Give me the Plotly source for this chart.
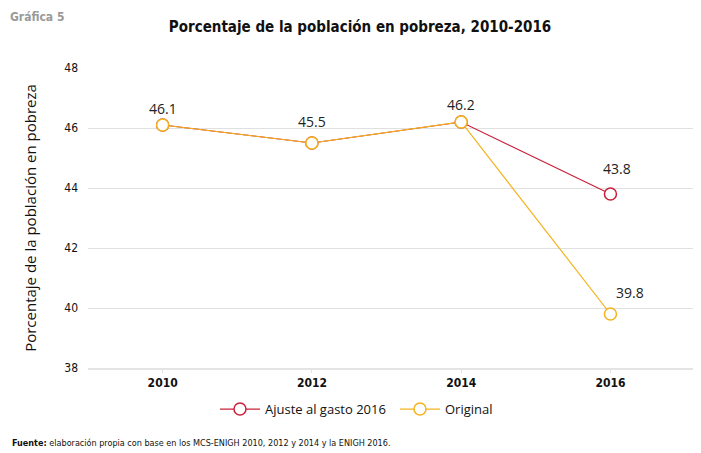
import plotly.graph_objects as go

years = ["2010", "2012", "2014", "2016"]
ajuste = [46.1, 45.5, 46.2, 43.8]
original = [46.1, 45.5, 46.2, 39.8]
y_ticks = [38, 40, 42, 44, 46, 48]

RED = "#c8203a"
ORANGE = "#f4b31e"
NARROW = "DejaVu Sans Condensed, Liberation Sans Narrow, sans-serif"
REG = "Open Sans, sans-serif"

fig = go.Figure()
fig.add_trace(go.Scatter(
    x=years, y=ajuste, name="Ajuste al gasto 2016", mode="lines+markers",
    line=dict(color=RED, width=1.2),
    marker=dict(symbol="circle", size=12, color="white", line=dict(color=RED, width=1.5)),
))
fig.add_trace(go.Scatter(
    x=years, y=original, name="Original", mode="lines+markers",
    line=dict(color=ORANGE, width=1.2),
    marker=dict(symbol="circle", size=12, color="white", line=dict(color=ORANGE, width=1.5)),
))

# data labels (x given as category index)
label_pts = [(0, original[0], 0, 17), (1, original[1], 0, 22),
             (2, original[2], 0, 18), (3, ajuste[3], 7, 26),
             (3, original[3], 20, 22)]
for xi, y, xs, ys in label_pts:
    fig.add_annotation(x=xi, y=y, xref="x", yref="y", text=f"{y:.1f}", showarrow=False,
                       xshift=xs, yshift=ys,
                       font=dict(family=REG, size=14, color="#222"))

fig.update_layout(
    width=693, height=445,
    margin=dict(l=80, r=1, t=60, b=85, autoexpand=False),
    paper_bgcolor="white", plot_bgcolor="white",
    title=dict(text="<b>Porcentaje de la población en pobreza, 2010-2016</b>",
               x=0.508, xanchor="center", y=0.957, yanchor="middle",
               font=dict(family=NARROW, size=15, color="#111")),
    xaxis=dict(type="category", range=[-0.5, 3.6], showgrid=False,
               showline=True, linecolor="#e4e4e4", linewidth=2,
               ticks="outside", ticklen=3, tickcolor="#e4e4e4",
               tickfont=dict(family=NARROW, size=12, color="#111"),
               tickprefix="<b>", ticksuffix="</b>"),
    yaxis=dict(range=[38, 48], tickvals=y_ticks, showgrid=True,
               gridcolor="#e0e0e0", gridwidth=1, zeroline=False,
               showline=False, ticks="", ticklabelstandoff=9,
               tickfont=dict(family=NARROW, size=12, color="#111"),
               tickprefix="<b>", ticksuffix="</b>"),
    legend=dict(orientation="h", x=0.2075, xanchor="left", y=-0.137, yanchor="middle",
                font=dict(family=REG, size=13, color="#111"),
                itemwidth=40, traceorder="normal", entrywidthmode="pixels", entrywidth=125),
    showlegend=True,
)
fig.update_yaxes(title=dict(text="Porcentaje de la población en pobreza", standoff=24,
                            font=dict(family=REG, size=15, color="#111")))

fig.add_annotation(x=0, y=1, xref="paper", yref="paper", xanchor="left", yanchor="top",
                   xshift=-80, yshift=60, text="<b>Gráfica 5</b>", showarrow=False,
                   font=dict(family=NARROW, size=12, color="#9a9a9a"))
fig.add_annotation(x=0, y=-0.25, xref="paper", yref="paper", xanchor="left", yanchor="middle",
                   xshift=-78,
                   text="<b>Fuente:</b> elaboración propia con base en los MCS-ENIGH 2010, 2012 y 2014 y la ENIGH 2016.",
                   showarrow=False, font=dict(family=NARROW, size=9, color="#111"))

fig.write_html("out.html")
